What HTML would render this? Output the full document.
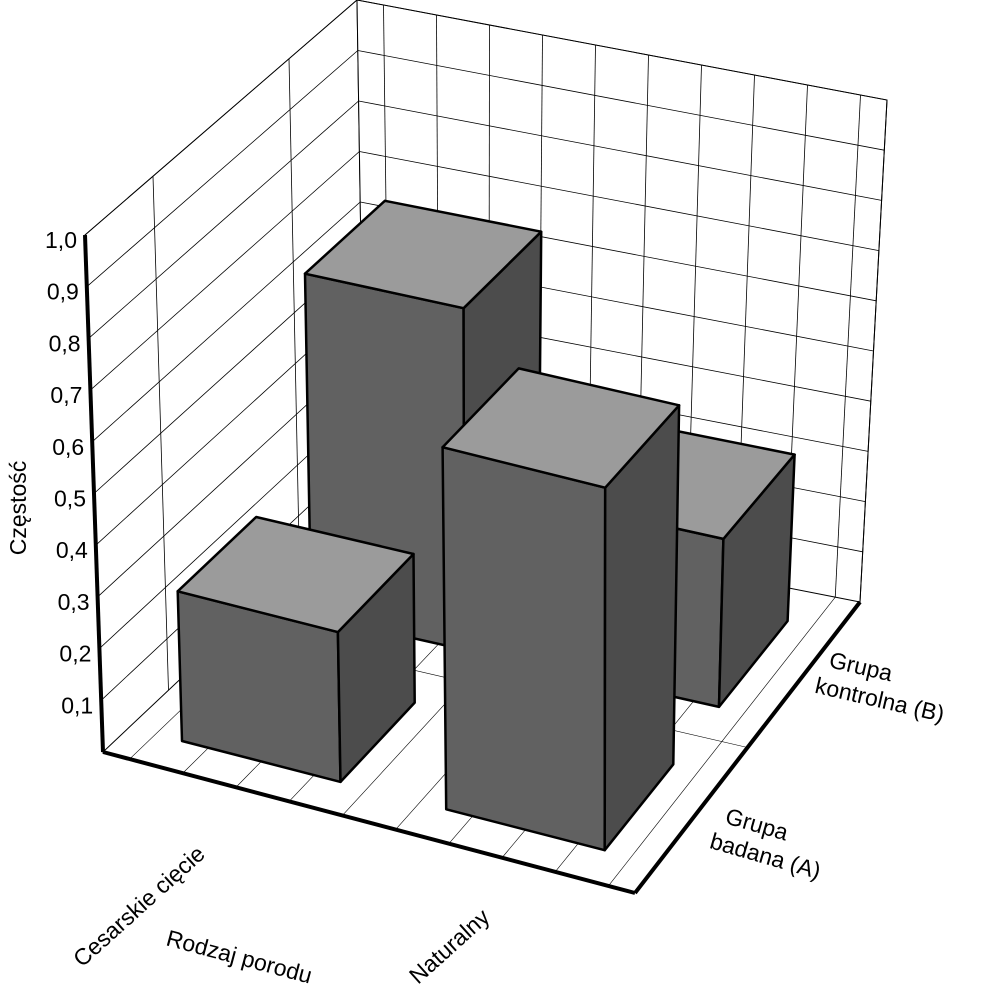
<!DOCTYPE html>
<html><head><meta charset="utf-8"><style>
html,body{margin:0;padding:0;background:#fff;}
svg{display:block;font-family:"Liberation Sans",Arial,sans-serif;}
</style></head><body>
<svg id="chart" width="986" height="1001" viewBox="0 0 986 1001" xmlns="http://www.w3.org/2000/svg">
<g id="walls"></g>
<g id="grid"></g>
<g id="bars"></g>
<g id="axes"></g>
<g id="labels"></g>
<text x="0" y="0" font-size="23" transform="translate(26,508) rotate(-90)" text-anchor="middle">Częstość</text>
<text font-size="23" transform="translate(165,945) rotate(15)">Rodzaj porodu</text>
<text font-size="23" transform="translate(82,968) rotate(-42)">Cesarskie cięcie</text>
<text font-size="23" transform="translate(418,985) rotate(-42)">Naturalny</text>
<text font-size="23" transform="translate(828,667) rotate(13)"><tspan x="0" dy="0">Grupa</tspan><tspan x="-8" dy="28">kontrolna (B)</tspan></text>
<text font-size="23" transform="translate(724,823) rotate(16)"><tspan x="0" dy="0">Grupa</tspan><tspan x="-8" dy="28">badana (A)</tspan></text>
</svg>
<script>
const categories = ["Cesarskie cięcie", "Naturalny"];
const seriesNames = ["Grupa badana (A)", "Grupa kontrolna (B)"];
const seriesA = [0.29, 0.70];
const seriesB = [0.67, 0.33];
const yTicks = ["0,1","0,2","0,3","0,4","0,5","0,6","0,7","0,8","0,9","1,0"];
const yTickValues = [0.1,0.2,0.3,0.4,0.5,0.6,0.7,0.8,0.9,1.0];

const NS = "http://www.w3.org/2000/svg";
// floor corners: [u][v]
const F = {x00:103,y00:752,x10:635,y10:893,x01:365,y01:505,x11:860,y11:602};
const HS = {h00:517,h10:520,h01:505,h11:502};
const TL = {t00:-18,t10:0,t01:-8,t11:27};
function bil(a00,a10,a01,a11,u,v){return (1-u)*(1-v)*a00+u*(1-v)*a10+(1-u)*v*a01+u*v*a11;}
function P(u,v,h){
  const x=bil(F.x00,F.x10,F.x01,F.x11,u,v)+h*bil(TL.t00,TL.t10,TL.t01,TL.t11,u,v);
  const y=bil(F.y00,F.y10,F.y01,F.y11,u,v)-h*bil(HS.h00,HS.h10,HS.h01,HS.h11,u,v);
  return [x,y];
}
function mk(tag,attrs,parent){const e=document.createElementNS(NS,tag);for(const k in attrs)e.setAttribute(k,attrs[k]);parent.appendChild(e);return e;}
function poly(pts){return pts.map(p=>p[0].toFixed(1)+","+p[1].toFixed(1)).join(" ");}
function line(a,b,parent,w,name){
  const l=mk("line",{x1:a[0],y1:a[1],x2:b[0],y2:b[1],stroke:"#000","stroke-width":w},parent);
  
  
  return l;
}
const walls=document.getElementById("walls"),grid=document.getElementById("grid"),bars=document.getElementById("bars"),axes=document.getElementById("axes"),labels=document.getElementById("labels");
// walls
const lw=mk("polygon",{points:poly([P(0,0,0),P(0,1,0),P(0,1,1),P(0,0,1)]),fill:"#fff",stroke:"#000","stroke-width":1},walls);


const bw=mk("polygon",{points:poly([P(0,1,0),P(1,1,0),P(1,1,1),P(0,1,1)]),fill:"#fff",stroke:"#000","stroke-width":1},walls);


// gridlines
yTickValues.forEach(h=>{
  line(P(0,0,h),P(0,1,h),grid,0.8,'left-wall-gridline');
  line(P(0,1,h),P(1,1,h),grid,0.8,'back-wall-gridline');
});
[0.25,0.75].forEach(v=>line(P(0,v,0),P(0,v,1),grid,0.8,'left-wall-vertical-gridline'));
for(let k=0;k<10;k++){const u=0.05+0.1*k;
  line(P(u,1,0),P(u,1,1),grid,0.8,'back-wall-vertical-gridline');
  line(P(u,0,0),P(u,1,0),grid,0.6,'floor-gridline');
}
line(P(0,0.5,0),P(1,0.5,0),grid,0.6,'floor-gridline');
line(P(1,1,0),P(1,1,1),grid,1,'back-wall-right-edge');
// bars
function bar(ci,si,val,name){
  const u0=ci*0.5+0.1,u1=u0+0.3,v0=si*0.5+0.1,v1=v0+0.3;
  const g=mk("g",{},bars);
  
  
  const st={stroke:"#000","stroke-width":2.5,"stroke-linejoin":"round"};
  const front=mk("polygon",Object.assign({points:poly([P(u0,v0,0),P(u1,v0,0),P(u1,v0,val),P(u0,v0,val)]),fill:"#616161"},st),g);
  
  
  const side=mk("polygon",Object.assign({points:poly([P(u1,v0,0),P(u1,v1,0),P(u1,v1,val),P(u1,v0,val)]),fill:"#4c4c4c"},st),g);
  
  
  const top=mk("polygon",Object.assign({points:poly([P(u0,v0,val),P(u1,v0,val),P(u1,v1,val),P(u0,v1,val)]),fill:"#9b9b9b"},st),g);
  
  
}
seriesB.forEach((v,i)=>bar(i,1,v,'bar-b-'+i));
seriesA.forEach((v,i)=>bar(i,0,v,'bar-a-'+i));
// axes
line(P(0,0,0),P(0,0,1),axes,4,'y-axis');
line(P(0,0,0),P(1,0,0),axes,4,'x-axis');
line(P(1,0,0),P(1,1,0),axes,4,'depth-axis');
// tick labels
yTicks.forEach((t,i)=>{
  const p=P(0,0,yTickValues[i]);
  const tx=mk("text",{x:p[0]-8,y:p[1]+13,"font-size":23,"text-anchor":"end"},labels);
  tx.textContent=t;
  
  
});
</script>
</body></html>
